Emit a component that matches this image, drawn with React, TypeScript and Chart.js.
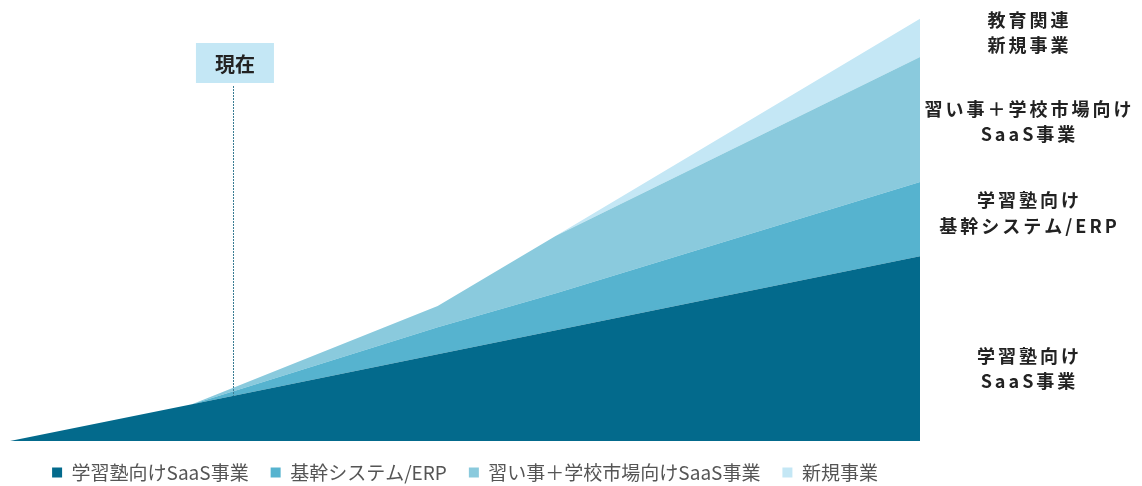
import { useEffect, useRef } from "react";
import { Chart, registerables } from "chart.js";
Chart.register(...registerables);

const xPositions = [0, 20, 47, 60, 100];
const seriesNames = ["学習塾向けSaaS事業", "基幹システム/ERP", "習い事＋学校市場向けSaaS事業", "新規事業"];
const saasJuku = [0, 8.7, 20.5, 26.2, 43.7];
const erp = [0, 0, 6.4, 8.7, 17.5];
const naraigoto = [0, 0, 5.0, 13.6, 29.6];
const shinki = [0, 0, 0, 0, 9.0];
const seriesColors = ["#036a8c", "#56b3cf", "#8acadd", "#c4e7f5"];
const sideLabels = [
  ["学習塾向け", "SaaS事業"],
  ["学習塾向け", "基幹システム/ERP"],
  ["習い事＋学校市場向け", "SaaS事業"],
  ["教育関連", "新規事業"],
];
const sideLabelOffsets = [20, -6, 2, -5];
const nowX = 24.5;
const nowLabel = "現在";

const FONT = '"Noto Sans CJK JP", "Noto Sans", sans-serif';

function interp(xs: number[], ys: number[], x: number) {
  for (let i = 0; i < xs.length - 1; i++) {
    if (x >= xs[i] && x <= xs[i + 1]) {
      const t = (x - xs[i]) / (xs[i + 1] - xs[i]);
      return ys[i] + t * (ys[i + 1] - ys[i]);
    }
  }
  return ys[ys.length - 1];
}

export default function App() {
  const ref = useRef<HTMLCanvasElement | null>(null);
  useEffect(() => {
    if (!ref.current) return;
    const allSeries = [saasJuku, erp, naraigoto, shinki];
    const overlay = {
      id: "overlay",
      afterDatasetsDraw(chart: any) {
        const ctx = chart.ctx;
        const xs = chart.scales.x;
        const ys = chart.scales.y;
        const last = xPositions.length - 1;
        let cum = 0;
        ctx.save();
        ctx.fillStyle = "#222";
        ctx.font = `bold 18px ${FONT}`;
        ctx.textAlign = "center";
        ctx.textBaseline = "middle";
        (ctx as any).letterSpacing = "3px";
        const cx = chart.chartArea.right + 108;
        allSeries.forEach((s, i) => {
          const bottom = ys.getPixelForValue(cum);
          cum += s[last];
          const top = ys.getPixelForValue(cum);
          const center = (bottom + top) / 2 + sideLabelOffsets[i];
          const lines = sideLabels[i];
          const lh = 25.5;
          lines.forEach((ln, j) => {
            const y = center + (j - (lines.length - 1) / 2) * lh;
            ctx.fillText(ln, cx + 1.5, y);
          });
        });
        (ctx as any).letterSpacing = "0px";
        const px = xs.getPixelForValue(nowX);
        const boxW = 78, boxH = 40, boxTop = 35;
        ctx.fillStyle = "#c4e7f5";
        ctx.fillRect(px - boxW / 2 + 2, boxTop, boxW, boxH);
        ctx.fillStyle = "#222";
        ctx.font = `bold 20px ${FONT}`;
        ctx.fillText(nowLabel, px + 2, boxTop + boxH / 2 + 1);
        const yEnd = ys.getPixelForValue(interp(xPositions, saasJuku, nowX));
        ctx.strokeStyle = "#3a7d94";
        ctx.lineWidth = 1;
        ctx.setLineDash([2, 1]);
        ctx.beginPath();
        ctx.moveTo(Math.round(px) + 0.5, boxTop + boxH + 3);
        ctx.lineTo(Math.round(px) + 0.5, yEnd);
        ctx.stroke();
        ctx.restore();
      },
    };
    const chart = new Chart(ref.current, {
      type: "line",
      data: {
        datasets: allSeries.map((s, i) => ({
          label: seriesNames[i],
          data: s.map((v, j) => ({ x: xPositions[j], y: v })),
          backgroundColor: seriesColors[i],
          borderColor: seriesColors[i],
          borderWidth: 0,
          pointRadius: 0,
          fill: i === 0 ? "origin" : "-1",
          tension: 0,
        })),
      },
      options: {
        animation: false,
        responsive: true,
        maintainAspectRatio: false,
        layout: { padding: { left: 2, right: 214, top: 10, bottom: 0 } },
        scales: {
          x: { type: "linear", min: 0, max: 100, display: false },
          y: { type: "linear", min: 0, max: 100, stacked: true, display: false },
        },
        plugins: {
          tooltip: { enabled: false },
          legend: {
            position: "bottom",
            labels: {
              boxWidth: 10,
              boxHeight: 10,
              padding: 22,
              color: "#555",
              font: { family: FONT, size: 19 },
            },
          },
        },
      },
      plugins: [overlay],
    } as any);
    return () => chart.destroy();
  }, []);
  return (
    <div style={{ height: 478, overflow: "hidden" }}>
      <div style={{ position: "relative", height: 484 }}>
        <canvas ref={ref} />
      </div>
    </div>
  );
}
